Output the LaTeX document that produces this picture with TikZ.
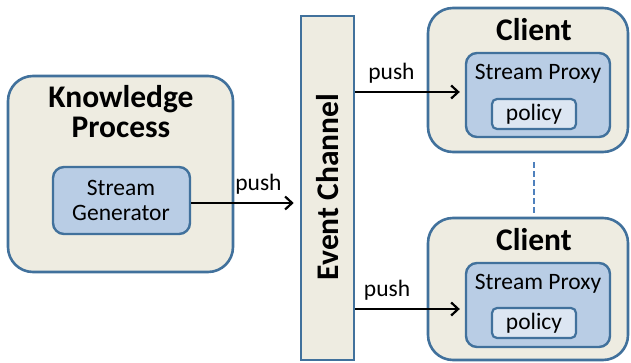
\documentclass[tikz,border=0pt]{standalone}
\usepackage{fontspec}
\setmainfont{Carlito}
\usetikzlibrary{arrows.meta}
\definecolor{beige}{HTML}{EEECE1}
\definecolor{bord}{HTML}{41719C}
\definecolor{lblue}{HTML}{B9CDE5}
\definecolor{pblue}{HTML}{DCE6F2}
\definecolor{dashc}{HTML}{4F81BD}
\tikzset{
  outerbox/.style={draw=bord, fill=beige, line width=2.6pt, rounded corners=25pt, inner sep=0pt},
  innerbox/.style={draw=bord, fill=lblue, line width=2.4pt, rounded corners=11pt, inner sep=0pt},
  polbox/.style={draw=bord, fill=pblue, line width=2.2pt, rounded corners=5pt, inner sep=0pt},
  chanbox/.style={draw=bord, fill=beige, line width=2.6pt, inner sep=0pt},
  title/.style={font=\fontsize{31.5}{30}\selectfont\bfseries, align=center, inner sep=0pt},
  txt/.style={font=\fontsize{23.5}{25}\selectfont, align=center, inner sep=0pt},
  arr/.style={line width=2.2pt, -{Straight Barb[length=7pt,width=13pt,line width=2.2pt]}},
}
\begin{document}
\begin{tikzpicture}[x=1pt,y=-1pt]
\useasboundingbox (0,0) rectangle (631,363);
% Knowledge Process
\node[outerbox, minimum width=225pt, minimum height=196pt] (kp) at (120.5,174) {};
\node[title] (kpt) at (121,112) {Knowledge\\Process};
\node[innerbox, minimum width=137pt, minimum height=67pt] (sg) at (121.5,200.5) {};
\node[txt] (sgt) at (121,200) {Stream\\Generator};
% Event channel
\node[chanbox, minimum width=53pt, minimum height=344pt] (ec) at (327.5,188) {};
\node[title, rotate=90] (ect) at (328,187) {Event Channel};
% Client 1
\node[outerbox, minimum width=200pt, minimum height=144pt] (c1) at (528,80) {};
\node[title] (c1t) at (534,30) {Client};
\node[innerbox, minimum width=144pt, minimum height=84pt] (sp1) at (538,95) {};
\node[txt] (sp1t) at (538,74) {Stream Proxy};
\node[polbox, minimum width=84pt, minimum height=30pt] (p1) at (534,114) {};
\node[txt] (p1t) at (534,114) {policy};
% Client 2
\node[outerbox, minimum width=200pt, minimum height=142pt] (c2) at (528,289) {};
\node[title] (c2t) at (534,240) {Client};
\node[innerbox, minimum width=144pt, minimum height=84pt] (sp2) at (538,305) {};
\node[txt] (sp2t) at (538,284) {Stream Proxy};
\node[polbox, minimum width=84pt, minimum height=30pt] (p2) at (534,323) {};
\node[txt] (p2t) at (534,323) {policy};
% connectors
\draw[arr, shorten >=6pt] ([yshift=-2.5pt]sg.east) -- ([yshift=-2.5pt]sg.east -| ec.west)
  node[txt, pos=0.62, above=8pt] (l0) {push};
\draw[arr, shorten >=5pt] ([yshift=3pt]sp1.west -| ec.east) -- ([yshift=3pt]sp1.west)
  node[txt, pos=0.33, above=8pt] (l1) {push};
\draw[arr, shorten >=5pt] ([yshift=-4pt]sp2.west -| ec.east) -- ([yshift=-4pt]sp2.west)
  node[txt, pos=0.29, above=8pt] (l2) {push};
\draw[dashc, line width=1.6pt, dash pattern=on 6pt off 3pt, shorten <=9pt, shorten >=3pt] (c1.south -| p1.center) -- (c2.north -| p1.center);
\end{tikzpicture}
\end{document}
